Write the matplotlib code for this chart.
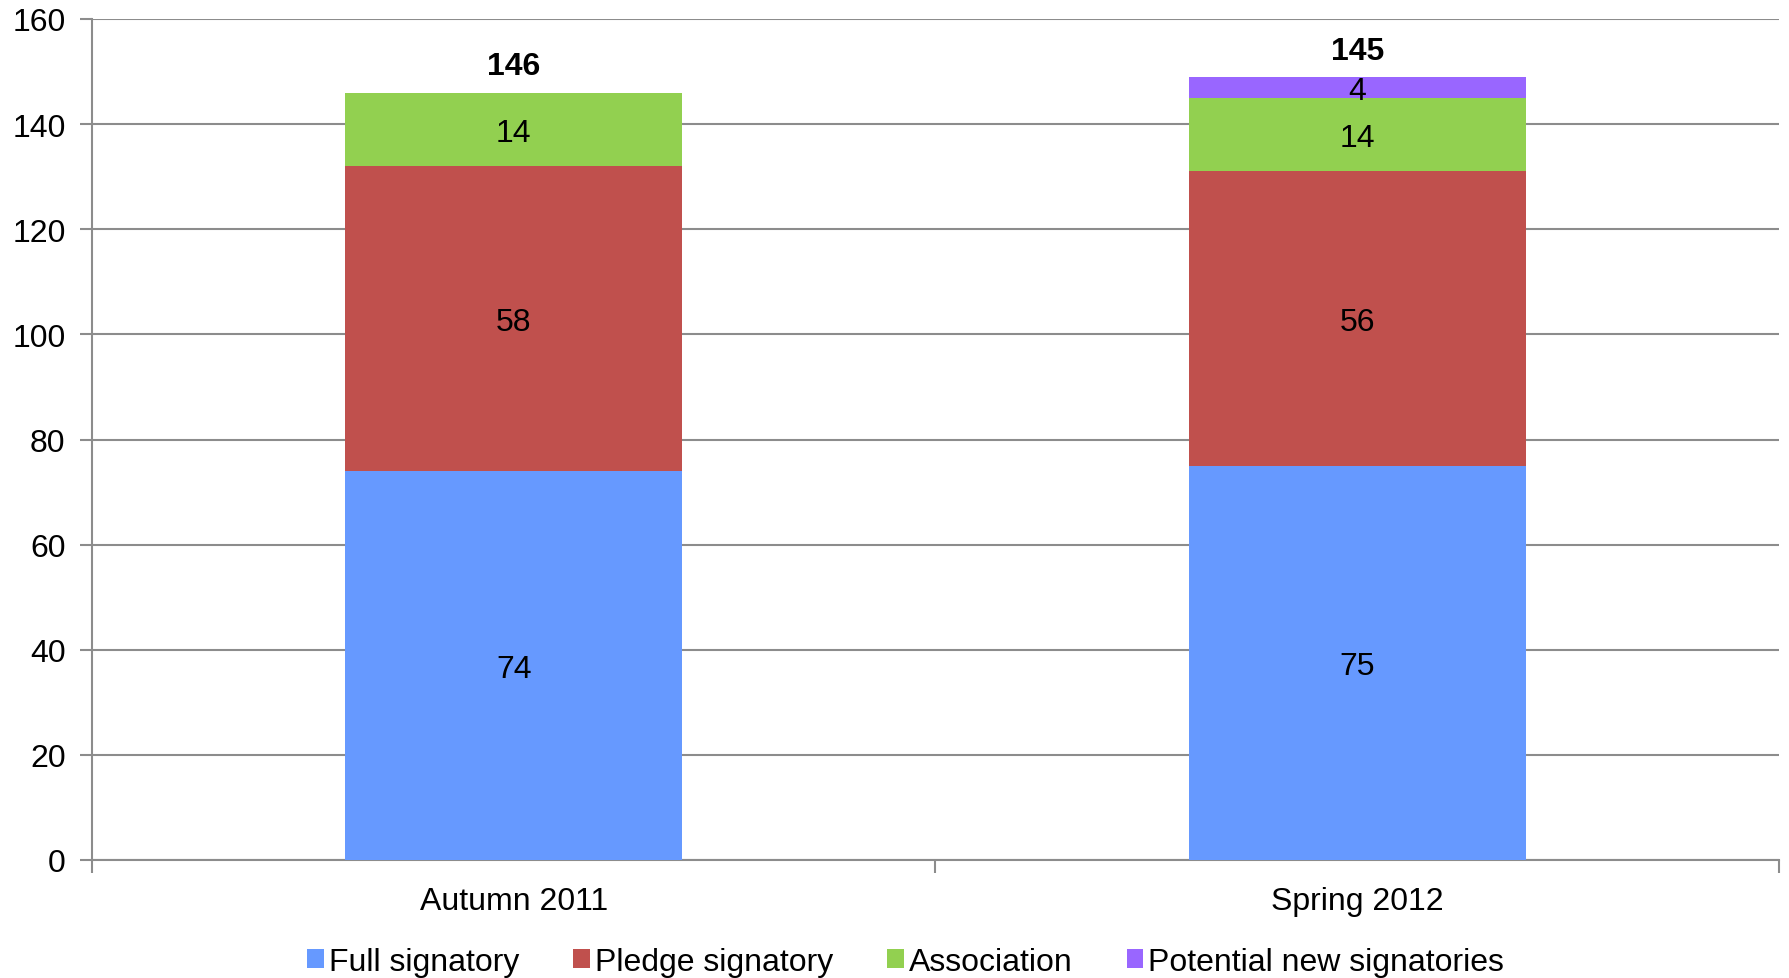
import numpy as np
import matplotlib.pyplot as plt

plt.rcParams['font.family'] = ['Liberation Sans', 'DejaVu Sans']

# Signatory counts per survey round
periods = ['Autumn 2011', 'Spring 2012']
full = [74, 75]
pledge = [58, 56]
association = [14, 14]
potential = [0, 4]
totals = [146, 145]

series = [('Full signatory', full, '#6699ff'),
          ('Pledge signatory', pledge, '#c0504d'),
          ('Association', association, '#92d050'),
          ('Potential new signatories', potential, '#9966ff')]

fs = 23

fig = plt.figure(figsize=(17.9, 9.79), dpi=100)
ax = fig.add_axes([92/1790, 1 - 861/979, (1779-92)/1790, 841/979])

x = np.arange(len(periods))
bottom = np.zeros(len(periods))
for name, vals, col in series:
    vals = np.array(vals, dtype=float)
    ax.bar(x, vals, 0.4, bottom=bottom, color=col, label=name, zorder=3)
    for xi, b, v in zip(x, bottom, vals):
        if v > 0:
            ax.text(xi, b + v / 2, f'{v:g}', ha='center', va='center_baseline',
                    fontsize=fs, zorder=4)
    bottom += vals

# totals above each stack
for xi, top, t in zip(x, bottom, totals):
    ax.text(xi, top + 5.0, str(t), ha='center', va='center',
            fontsize=fs, fontweight='bold')

ax.set_xlim(-0.5, 1.5)
ax.set_ylim(0, 160)
ax.set_yticks(range(0, 161, 20))
ax.yaxis.grid(True, color='#8c8c8c', linewidth=1.5, zorder=0)
ax.tick_params(axis='y', length=9, width=1.5, color='#8c8c8c',
               labelsize=fs, pad=10)

ax.set_xticks([-0.5, 0.5, 1.5])
ax.set_xticklabels([])
ax.set_xticks(x, minor=True)
ax.set_xticklabels(periods, minor=True, fontsize=fs)
ax.tick_params(axis='x', which='major', length=9, width=1.5, color='#8c8c8c')
ax.tick_params(axis='x', which='minor', length=0, pad=19)

for s in ['top', 'right']:
    ax.spines[s].set_visible(False)
for s in ['left', 'bottom']:
    ax.spines[s].set_color('#8c8c8c')
    ax.spines[s].set_linewidth(1.5)

fig.legend(loc='center', bbox_to_anchor=(0.506, 1 - 963/979), ncol=4,
           frameon=False, fontsize=fs, handlelength=0.52, handleheight=0.52,
           handletextpad=0.15, columnspacing=1.7, borderpad=0)

fig.savefig('out.png', dpi=100)
